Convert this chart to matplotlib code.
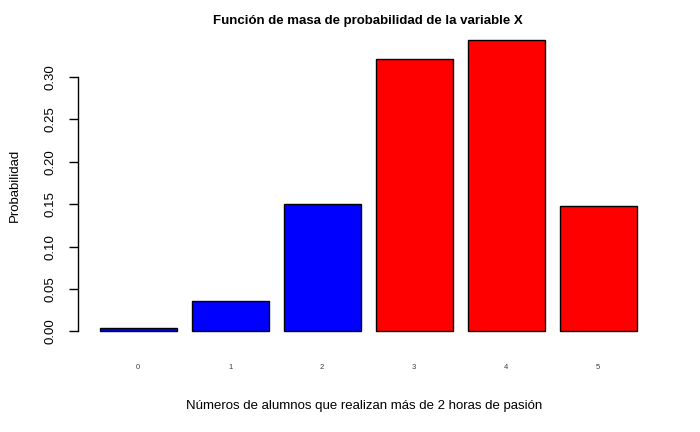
import matplotlib.pyplot as plt

plt.rcParams['font.family'] = ['Liberation Sans', 'DejaVu Sans']

# datos
valores_x = ['0', '1', '2', '3', '4', '5']
probabilidad = [0.0035, 0.0354, 0.150, 0.321, 0.344, 0.148]
colores = ['blue', 'blue', 'blue', 'red', 'red', 'red']

fig = plt.figure(figsize=(7, 4.32), dpi=100)
ax = fig.add_axes([0.112, 0.206, 0.828, 0.729])

# posiciones como barplot de R (width=1, space=0.2)
pos = [0.7 + 1.2 * i for i in range(len(valores_x))]
ax.bar(pos, probabilidad, width=1, color=colores, edgecolor='black', linewidth=1)

ax.set_xlim(-0.08, 7.48)
top = max(probabilidad) * 1.04
ax.set_ylim(-max(probabilidad) * 0.04, top)

for s in ['top', 'right', 'bottom']:
    ax.spines[s].set_visible(False)
ax.spines['left'].set_bounds(0, 0.30)
ax.spines['left'].set_linewidth(1)

ax.set_yticks([0, 0.05, 0.10, 0.15, 0.20, 0.25, 0.30])
ax.set_yticklabels(['0.00', '0.05', '0.10', '0.15', '0.20', '0.25', '0.30'],
                   rotation=90, va='center')
ax.tick_params(axis='y', length=6.5, width=1, pad=9, labelsize=9.5)

ax.set_xticks(pos)
ax.set_xticklabels(valores_x)
ax.tick_params(axis='x', length=0, pad=15, labelsize=5.5, labelcolor='#3a3a50')

ax.set_title('Función de masa de probabilidad de la variable X',
             fontsize=9.5, fontweight='bold', pad=3)
fig.text(0.52, 0.06, 'Números de alumnos que realizan más de 2 horas de pasión',
         ha='center', va='center', fontsize=9.5)
fig.text(0.021, 0.57, 'Probabilidad', rotation=90, ha='center', va='center', fontsize=9.5)

fig.savefig('out.png', dpi=100)
